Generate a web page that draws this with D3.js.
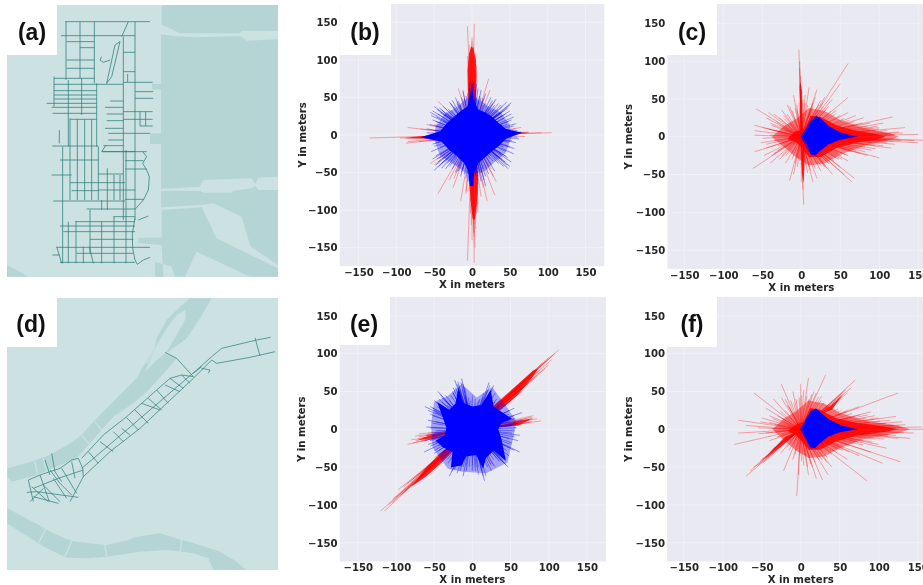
<!DOCTYPE html>
<html><head><meta charset="utf-8">
<script src="https://cdnjs.cloudflare.com/ajax/libs/d3/7.8.5/d3.min.js"></script>
<style>html,body{margin:0;padding:0;background:#fff;overflow:hidden}svg{display:block;filter:blur(.45px)}</style>
</head><body><svg id="c" width="923" height="585"></svg>
<script>
// ---------- tick labels and axis text ----------
const tickValues=[-150,-100,-50,0,50,100,150];
const xLabel="X in meters", yLabel="Y in meters";
const panelNames=["(a)","(b)","(c)","(d)","(e)","(f)"];

// ---------- ray end points in metres [x,y] ----------
const redB=[[-6,145],[3,148],[0,125],[-3,120],[2,118],[-2,110],[1,105],[4,100],[-4,98],[-1,115],[3,95],[0,130],[-2,100],[-6,-167],[3,-170],[4,-150],[5,-125],[0,-140],[2,-130],[6,-105],[-1,-120],[3,-135],[-2,-105],[1,-110],[6,-95],[-1,-95],[-135,-4],[-95,-4],[-88,-5],[-85,-9],[-87,-11],[-85,10],[-60,14],[-65,-3],[-80,-3],[105,3],[92,3],[75,4],[65,10],[70,-2],[60,3],[50,-8],[22,75],[15,50],[30,45],[-12,60],[-18,62],[-45,45],[-20,45],[24,27],[28,20],[40,30],[35,10],[-50,-40],[-45,-78],[-30,-60],[-15,-88],[-8,-75],[-20,-50],[-25,-70],[15,-70],[30,-80],[28,-55],[25,-45],[12,-82],[-55,-38],[40,-30],[-35,-20],[8,-103],[-8,-78],[-6,105],[5,108],[-5,88],[6,92],[-3,82],[4,78],[7,-80],[-2,-88],[4,-104],[8,-92],[-4,-75],[3,-118],[58,8],[-68,8],[-70,-9],[-50,14],[48,-14],[32,-62],[-24,-58],[24,60],[20,-88],[-12,48]];
const blueB=[[-55,30],[-52,20],[-50,38],[-45,28],[-40,33],[-38,38],[-48,12],[-60,8],[-56,-8],[-50,-15],[-54,-22],[-48,-28],[-45,-36],[-40,-38],[-50,-47],[-35,-45],[-30,-42],[-25,-38],[-22,-50],[-15,-55],[-12,-45],[-8,-58],[-5,-62],[2,-68],[8,-55],[12,-62],[18,-68],[15,-45],[22,-52],[26,-40],[30,-48],[35,-38],[42,-42],[48,-45],[52,-36],[55,-25],[45,-22],[50,-16],[58,-10],[62,-5],[60,6],[55,12],[48,18],[55,24],[50,32],[46,44],[40,38],[35,42],[30,35],[25,50],[22,38],[18,55],[12,60],[8,45],[6,68],[2,70],[-3,70],[-8,52],[-12,58],[-18,45],[-22,50],[-28,42],[-32,35],[-28,25],[-43,36],[-47,24],[-36,28],[-33,-38],[-43,-31],[-18,-42],[40,-33],[47,-30],[38,30],[43,33],[27,42],[15,40]];
const blueB2=[[30,25],[33,28],[36,30],[40,26],[44,28],[47,36],[50,40],[52,43],[38,40],[34,34],[28,30],[25,32],[22,30],[20,35],[18,42],[15,48],[12,50],[10,52],[6,50],[4,60],[8,62],[30,40],[42,22],[46,14],[52,20],[58,15],[48,8],[40,14],[35,18],[62,3],[65,4],[55,5],[52,28],[27,46],[32,48],[30,-22],[33,-28],[37,-32],[40,-27],[44,-36],[46,-40],[50,-42],[28,-35],[24,-32],[22,-42],[20,-46],[18,-55],[16,-60],[13,-50],[10,-48],[8,-65],[5,-55],[35,-15],[42,-16],[48,-10],[53,-8],[56,-18],[38,-24],[44,-28],[30,-12],[25,-28],[60,-3],[-30,-25],[-34,-28],[-38,-32],[-42,-26],[-46,-32],[-48,-40],[-52,-32],[-28,-35],[-26,-45],[-24,-30],[-20,-40],[-18,-48],[-14,-50],[-10,-52],[-6,-50],[-3,-60],[-35,-15],[-42,-16],[-48,-10],[-52,-12],[-58,-4],[-40,-44],[-44,-42],[-36,-36],[-30,-14],[-62,-3],[-30,25],[-34,30],[-38,28],[-42,30],[-46,34],[-52,32],[-54,26],[-48,18],[-44,14],[-38,18],[-34,20],[-28,33],[-24,38],[-20,42],[-16,40],[-14,50],[-10,48],[-6,55],[-4,62],[-26,46],[-30,44],[-56,14],[-50,6],[-60,3],[-44,8]];
const redC=[[-3,115],[-2,100],[-1,80],[-2,70],[-1,60],[-2,90],[60,97],[50,70],[60,52],[40,50],[30,52],[20,62],[10,65],[-10,55],[-15,40],[-25,35],[-35,30],[-58,37],[-45,25],[-60,15],[-60,8],[-60,2],[-50,-2],[-45,-10],[-60,-20],[-45,-15],[-62,-42],[-40,-35],[-25,-25],[-15,-58],[-10,-50],[-5,-40],[0,-60],[2,-70],[3,-90],[1,-50],[15,-60],[25,-45],[40,-50],[65,-60],[55,-50],[68,-55],[50,-40],[35,-35],[100,-28],[90,-18],[85,-25],[115,-15],[120,-10],[145,-5],[150,-8],[165,-5],[150,3],[133,12],[117,26],[105,18],[100,12],[80,25],[70,28],[60,32],[45,35],[35,40],[25,48],[100,-5],[130,5],[125,-3],[110,8],[-40,18],[-30,5],[-20,-35],[10,-40],[20,-55],[-28,15],[-22,24],[-35,-22],[-30,-12],[-12,-30],[5,45],[15,40],[-5,35],[30,-38],[75,-22],[60,-25],[95,8],[118,2]];
const redC2=[[105,6],[108,-6],[100,10],[95,-12],[92,12],[90,-8],[88,8],[85,14],[82,-14],[80,-10],[78,18],[75,-16],[72,16],[70,-18],[68,20],[65,-20],[62,22],[58,-24],[55,24],[52,-26],[50,28],[48,-30],[44,30],[42,-32],[38,34],[36,-36],[32,36],[30,-40],[28,40],[25,-38],[115,4],[112,-4],[110,2],[120,3],[125,6],[118,-6],[128,-5],[105,-12],[98,14],[95,-16],[88,18],[82,-20],[110,-8],[15,45],[18,52],[22,42],[28,45],[12,38],[8,42],[5,55],[2,50],[0,48],[-3,45],[-6,42],[-8,38],[-12,35],[-18,30],[-22,28],[-28,25],[-32,20],[-38,15],[-42,10],[-35,8],[-25,12],[-15,18],[-20,8],[-30,2],[-40,2],[-35,-5],[-25,-8],[-15,-12],[-30,-18],[-38,-25],[-28,-30],[-20,-25],[-12,-22],[-8,-35],[-5,-28],[-2,-32],[0,-38],[3,-45],[6,-38],[8,-48],[12,-45],[18,-42],[22,-38],[28,-32],[33,-42],[38,-30],[45,-28],[52,-30],[60,-32],[48,-22],[-18,42],[-42,32],[-50,12],[-52,-8],[-48,-25]];
const blueC=[[15,26],[20,28],[24,26],[12,20],[10,-20],[14,-26],[20,-26],[28,-18],[72,0],[40,12],[40,-9],[30,18],[18,27],[16,-25],[34,-13],[55,4],[55,-3]];
const redE=[[113,105],[105,98],[100,95],[95,80],[100,85],[90,85],[85,70],[78,72],[70,58],[65,50],[60,50],[50,40],[45,38],[-120,-108],[-115,-108],[-105,-97],[-97,-80],[-85,-72],[-92,-85],[-85,-78],[-80,-70],[-72,-62],[-65,-55],[-55,-48],[-50,-38],[-42,-35],[80,18],[90,11],[75,12],[70,8],[60,6],[55,14],[-85,-20],[-80,-14],[-70,-10],[-70,-6],[-60,-8],[-50,-5],[-62,-13],[-48,-15],[-30,-40],[-15,-38],[-10,-38],[-5,35],[5,35],[15,38],[-8,40],[10,-42],[25,-48],[30,-50],[-20,-35],[-12,38]];
const redE2=[[108,100],[104,92],[96,90],[92,88],[88,78],[84,76],[80,76],[76,64],[74,70],[68,66],[72,60],[66,60],[62,58],[58,54],[55,46],[50,46],[-110,-100],[-104,-92],[-100,-90],[-95,-88],[-90,-76],[-88,-82],[-80,-75],[-78,-66],[-72,-68],[-68,-60],[-70,-64],[-62,-52],[-60,-56],[-55,-52],[-52,-44],[85,14],[78,10],[72,14],[65,7],[-78,-18],[-75,-9],[-66,-12],[-58,-5],[-68,-16],[-55,-14],[78,16]];
const blueE=[[-23,65],[-14,67],[-10,55],[-18,58],[-20,50],[-28,45],[-45,50],[-40,42],[-35,38],[-50,38],[-62,30],[-55,20],[-48,22],[-58,12],[-60,3],[-50,-5],[-62,-15],[-55,-22],[-63,-30],[-50,-28],[-45,-35],[-42,-42],[-33,-40],[-30,-62],[-25,-50],[-20,-58],[-12,-62],[-8,-48],[0,-55],[8,-60],[16,-68],[18,-62],[25,-55],[28,-48],[35,-42],[47,-50],[42,-45],[48,-35],[55,-28],[62,-30],[50,-20],[60,-15],[62,-8],[55,-2],[60,8],[65,12],[55,18],[65,22],[55,28],[48,25],[45,33],[35,30],[30,48],[28,58],[22,62],[20,52],[15,48],[10,40],[0,45],[-5,42],[-8,38],[-15,62],[-19,63],[-42,46],[-44,40],[23,58],[26,52],[-27,-56],[-24,-54],[44,-47],[40,-40],[-30,30],[-52,28],[-54,-12],[-38,-30],[-15,-50],[5,-50],[38,-30],[52,5],[45,15],[-25,55]];
const blueE2=[[-30,38],[-33,32],[-38,25],[-42,28],[-46,30],[-50,25],[-52,18],[-48,10],[-52,8],[-55,2],[-48,-2],[-52,-8],[-55,-15],[-48,-18],[-45,-22],[-50,-32],[-44,-28],[-40,-32],[-36,-36],[-32,-45],[-28,-52],[-24,-44],[-20,-48],[-16,-55],[-12,-50],[-8,-55],[-4,-50],[0,-48],[4,-55],[8,-50],[12,-55],[14,-62],[20,-50],[24,-46],[28,-40],[32,-38],[36,-36],[40,-35],[44,-38],[38,-42],[45,-28],[50,-25],[52,-18],[48,-12],[55,-10],[52,-5],[58,2],[52,5],[50,10],[56,14],[50,15],[48,20],[42,22],[40,28],[36,32],[32,40],[30,36],[26,44],[24,50],[22,45],[18,42],[14,42],[8,38],[4,40],[-2,38],[-10,45],[-13,52],[-16,50],[-18,44],[-22,42],[-22,55],[-25,48],[-12,60],[-20,60],[-26,50],[-35,45],[-40,36],[-55,30],[-58,25],[-60,-8],[-58,-20]];
const redF=[[-70,-62],[-60,-50],[-55,-48],[-50,-40],[-45,-38],[-40,-30],[-30,-22],[-65,-55],[-35,-30],[70,65],[65,55],[55,50],[50,42],[45,35],[60,48],[40,30],[35,28],[125,48],[32,72],[10,68],[-25,60],[-60,48],[-35,40],[-25,42],[-10,50],[0,60],[20,48],[-85,-20],[-80,-5],[-80,12],[-70,5],[-55,2],[-50,15],[-40,18],[-45,-5],[-40,-15],[160,0],[155,3],[145,-5],[130,10],[122,17],[90,23],[125,-12],[128,-43],[85,-68],[105,-45],[110,-25],[60,-40],[28,-67],[10,-60],[-5,-88],[-3,-60],[-22,-55],[15,-50],[40,-50],[140,-12],[120,5],[130,2],[115,12],[100,-20],[90,-30],[75,-35],[35,-60],[20,-65],[-10,-40],[-15,-28],[-30,-10],[-25,15],[-15,30],[75,30],[60,25],[95,18],[110,8]];
const redF2=[[108,7],[112,-7],[102,11],[96,-13],[94,13],[90,-9],[86,9],[84,15],[80,-15],[78,-11],[76,19],[74,-17],[70,17],[68,-19],[66,21],[62,-21],[58,23],[55,-25],[52,25],[50,-27],[48,27],[46,-31],[42,31],[40,-33],[36,33],[34,-37],[30,35],[28,-41],[26,38],[24,-37],[118,5],[114,-3],[120,2],[126,4],[134,6],[122,-8],[132,-4],[107,-13],[100,15],[92,-17],[86,19],[80,-21],[112,-9],[14,46],[17,50],[23,43],[27,44],[11,40],[8,44],[4,52],[1,45],[-2,42],[-6,40],[-9,35],[-13,38],[-17,32],[-20,25],[-26,24],[-30,18],[-36,14],[-40,9],[-33,6],[-22,10],[-14,16],[-18,6],[-28,2],[-38,1],[-33,-4],[-24,-7],[-14,-11],[-28,-20],[-36,-26],[-26,-32],[-18,-24],[-10,-20],[-7,-33],[-4,-27],[-1,-34],[1,-42],[4,-48],[7,-36],[9,-50],[13,-46],[19,-44],[23,-40],[29,-30],[34,-44],[39,-29],[46,-26],[54,-28],[62,-30],[49,-20],[-20,40],[-45,28],[-52,10],[-54,-6],[-42,-36],[-48,-44],[-52,-42],[-35,-26],[48,38],[52,46],[42,34],[58,52],[38,32]];

// ---------- outlines of the overdrawn centres, metres ----------
const coreRedB=[[[-5,28],[-6,85],[-4,108],[-1,118],[2,115],[5,100],[6,80],[5,28]],[[-4,-25],[-3,-70],[-1,-95],[1,-112],[4,-112],[6,-95],[8,-70],[7,-25]],[[-25,-2],[-60,-5],[-88,-4],[-60,-1]],[[25,1],[60,4],[76,3],[60,1]]];
const coreBlueB=[[0,72],[2,48],[8,34],[18,30],[27,24],[35,16],[45,8],[66,3],[45,-5],[36,-14],[26,-22],[17,-30],[8,-38],[3,-50],[1,-68],[-3,-68],[-5,-48],[-10,-38],[-20,-28],[-30,-20],[-40,-9],[-68,-3],[-42,5],[-33,16],[-24,24],[-15,32],[-6,38],[-2,55]];
const haloBlueB=[[-5,50],[8,48],[22,38],[38,30],[50,14],[52,-4],[44,-24],[30,-36],[14,-50],[-6,-52],[-26,-38],[-42,-28],[-50,-6],[-48,12],[-36,28],[-22,36]];
const coreRedC=[[[-15,0],[-8,7],[4,10],[12,28],[25,26],[45,15],[70,8],[95,4],[108,0],[95,-4],[70,-8],[45,-15],[25,-27],[10,-27],[0,-14],[-7,-7],[-18,-3]],[[-1,0],[-2,65],[-1,72],[1,60],[2,0]],[[0,0],[1,-50],[3,-62],[4,-40],[4,0]]];
const haloRedC=[[-38,0],[-22,14],[-6,24],[10,38],[30,34],[50,22],[80,12],[115,4],[125,0],[115,-4],[80,-12],[50,-24],[30,-35],[10,-38],[-6,-28],[-22,-14]];
const coreBlueC=[[2,0],[8,12],[14,22],[20,27],[25,24],[35,14],[50,6],[70,0],[50,-4],[35,-10],[25,-18],[18,-25],[12,-23],[8,-12]];
const coreRedE=[[[22,26],[40,42],[60,60],[80,78],[86,80],[78,68],[60,46],[42,30],[28,20]],[[-22,-26],[-40,-44],[-60,-62],[-80,-76],[-75,-70],[-58,-48],[-42,-32],[-28,-20]],[[25,2],[60,11],[80,15],[60,5]],[[-25,-4],[-55,-8],[-75,-15],[-55,-12]]];
const coreBlueE=[[-18,55],[-12,35],[0,30],[12,32],[24,52],[28,30],[40,22],[52,14],[38,8],[34,0],[38,-12],[44,-42],[28,-28],[18,-38],[14,-52],[5,-34],[-8,-36],[-14,-48],[-28,-50],[-26,-30],[-38,-24],[-48,-15],[-36,-8],[-34,2],[-38,14],[-46,36],[-30,26],[-22,34]];
const haloBlueE=[[-14,60],[6,42],[26,56],[46,28],[58,10],[52,-18],[46,-44],[18,-58],[-12,-56],[-32,-52],[-52,-24],[-54,6],[-50,36],[-32,44]];
const coreRedF=[[[-14,0],[-6,6],[4,10],[12,28],[25,26],[45,15],[70,9],[105,4],[125,0],[105,-4],[70,-9],[45,-16],[25,-27],[10,-27],[0,-14],[-7,-7],[-16,-3]],[[-5,-3],[-50,-42],[-20,-10]],[[30,22],[55,47],[40,26]]];
const haloRedF=[[-36,0],[-22,14],[-6,24],[10,38],[30,34],[50,22],[80,12],[125,5],[140,0],[125,-5],[80,-13],[50,-25],[30,-36],[10,-38],[-6,-28],[-22,-14]];
const coreBlueF=[[2,0],[7,14],[13,24],[20,27],[26,22],[35,14],[50,6],[72,0],[50,-4],[35,-10],[25,-18],[18,-25],[12,-24],[7,-12]];

// ---------- map shapes, in map units ----------
const waterA=[
 [[485,20],[490,15],[834,15],[834,92],[760,93],[725,92],[720,100],[590,100],[540,100],[510,85],[485,75]],
 [[483,103],[520,108],[590,112],[720,108],[740,122],[834,118],[834,530],[775,533],[767,552],[755,535],[610,540],[600,560],[483,567]],
 [[483,573],[600,572],[610,578],[695,578],[700,572],[755,565],[765,558],[775,570],[834,570],[834,795],[752,740],[725,650],[640,610],[605,615],[483,622]],
 [[485,630],[605,622],[650,715],[834,805],[834,830],[750,830],[590,755],[555,830],[525,830],[515,800],[465,785],[465,830],[490,830],[485,735],[415,730],[415,713],[485,713]],
 [[21,795],[50,810],[85,830],[21,830]],
 [[456,252],[485,252],[485,268],[456,268]],[[450,400],[485,400],[485,432],[450,432]]
];
const waterD=[
 [[22,520],[80,505],[150,480],[210,445],[245,420],[282,378],[350,310],[410,250],[435,205],[465,155],[470,130],[500,75],[530,45],[570,10],[635,10],[600,70],[560,130],[500,175],[530,190],[500,225],[440,290],[400,325],[340,365],[305,405],[270,445],[230,490],[170,515],[110,540],[35,560],[22,545]],
 [[22,640],[60,660],[135,700],[160,715],[215,738],[270,745],[320,750],[385,735],[410,725],[480,715],[545,735],[600,750],[660,770],[710,800],[738,825],[640,825],[625,790],[580,775],[545,770],[500,765],[420,770],[320,785],[260,790],[200,788],[140,760],[115,745],[60,710],[22,685]]
];
const islandD=[[435,230],[470,150],[500,100],[530,60],[555,45],[558,70],[530,120],[500,170],[465,200]];
const bridgesD=[[[285,380],[305,405]],[[245,422],[270,448]],[[105,500],[112,535]],[[130,490],[140,525]],[[465,155],[440,205]],[[495,172],[530,190]],[[140,697],[115,745]],[[215,738],[195,785]],[[313,745],[320,785]],[[545,735],[540,778]]];

// streets of map (a): rows [y,x0,x1], columns [x,y0,y1], bends as polylines
const rowsA=[[65,195,450],[107,183,405],[125,200,283],[143,240,283],[157,370,405],[180,200,283],[205,200,283],[215,370,405],[235,162,283],[247,370,458],[253,162,370],[272,162,290],[285,162,290],[297,162,290],[310,140,290],[322,155,290],[340,158,290],[358,210,290],[275,405,460],[295,405,460],[303,330,370],[322,315,370],[342,320,370],[362,320,370],[385,315,370],[335,370,458],[358,370,458],[378,420,458],[400,325,450],[420,325,370],[438,157,295],[437,310,370],[455,308,405],[480,180,295],[455,370,440],[482,375,430],[507,375,440],[525,155,215],[522,295,370],[548,210,295],[572,215,295],[548,295,375],[570,295,405],[603,160,375],[598,375,430],[627,260,405],[650,340,405],[665,225,405],[678,180,405],[695,190,405],[718,270,400],[742,170,450],[760,230,400],[787,180,405]];
const colsA=[[162,230,320],[198,65,240],[205,240,440],[240,65,235],[245,235,345],[283,65,250],[290,250,440],[295,440,600],[370,110,660],[405,65,660],[188,440,790],[178,390,430],[210,355,600],[232,358,600],[254,358,600],[275,358,600],[322,505,630],[342,525,600],[360,525,600],[378,450,790],[437,335,378],[420,335,378],[383,222,247],[305,600,630],[270,630,760],[228,665,790],[305,665,790],[342,650,790],[205,665,790],[250,740,790]];
const bendsA=[[[405,655],[397,700],[398,745],[405,780],[412,793],[430,780],[450,772]],[[415,660],[445,648]],[[428,455],[440,470],[428,490],[440,510],[448,530],[445,570],[430,600],[405,628]],[[365,110],[385,65]],[[320,250],[345,135],[360,125],[335,230],[320,250]],[[305,170],[300,180],[310,187],[330,180]],[[268,740],[280,790]],[[170,740],[185,790]],[[318,435],[305,455],[370,455]],[[157,765],[180,765]]];
// streets of map (d)
const roadsD=[
 [[250,545],[330,470],[420,400],[500,325],[580,250],[635,195]],
 [[245,490],[310,420],[380,365],[425,325],[470,285],[510,250],[545,240],[580,245]],
 [[245,520],[310,465],[380,405],[450,345],[520,285],[590,225],[635,185]],
 [[635,185],[665,160],[770,135],[812,127]],[[635,195],[650,205],[750,187],[825,170]],[[765,128],[780,183]],
 [[495,172],[530,190],[580,245]],[[605,220],[630,225],[625,235]],
 [[85,555],[120,540],[180,520],[215,495],[235,490],[248,520],[250,545],[210,620]],
 [[100,580],[175,550],[250,525]],[[80,592],[110,590],[235,607]],[[90,620],[130,580]],[[85,555],[100,620]],[[95,575],[145,620]],
 [[150,525],[180,565],[215,600]],[[155,475],[165,530],[185,560]],[[135,495],[150,540]],[[215,500],[225,550]],[[120,540],[148,620]],[[185,520],[230,595]],
 [[100,605],[175,625]],[[130,570],[180,620]],[[160,550],[200,610]],[[265,470],[295,505]],[[300,440],[340,470]],[[340,410],[370,440]],[[380,368],[415,405]],[[405,345],[445,385]],[[425,325],[480,345]],[[445,310],[485,345]],[[470,285],[505,325]],[[495,270],[540,290]],[[510,250],[550,280]],[[545,240],[570,265]],[[365,400],[390,420]],[[580,235],[605,215]]
];

// ---------- panel frames on the page ----------
const plots=[
 {red:redB,blue:blueB.concat(blueB2),coreR:coreRedB,coreB:[coreBlueB],haloR:[],haloB:[haloBlueB],l:339.5,r:604.5,t:4,b:266.5,x0:472,y0:135,lab:[340,391,0,55,365,40],xl:284,yl:302,xt:273},
 {red:redC.concat(redC2),blue:blueC,coreR:coreRedC,coreB:[coreBlueC],haloR:[haloRedC],haloB:[],l:667.3,r:940,t:4,b:269,x0:801.3,y0:136.7,lab:[667,717,0,55,692,40],xl:287,yl:628,xt:276},
 {red:redE.concat(redE2),blue:blueE.concat(blueE2),coreR:coreRedE,coreB:[coreBlueE],haloR:[],haloB:[haloBlueE],l:339.5,r:606,t:296.7,b:561.7,x0:472.3,y0:429.3,lab:[340,390,290,345,364,332],xl:579,yl:301,xt:568},
 {red:redF.concat(redF2),blue:blueC,coreR:coreRedF,coreB:[coreBlueF],haloR:[haloRedF],haloB:[],l:667,r:940,t:296.7,b:561.7,x0:800.7,y0:429.3,lab:[667,717,296,347,692,332],xl:579,yl:628,xt:568}
];
const maps=[{x:7,y:5,w:271,h:272},{x:7,y:298,w:271,h:272}];

const svg=d3.select("#c");
const white="#fff",plotBg="#e9e9f1",ink="#262626",mapBg="#cce1e1",water="#b5d5d5",road="#2c7f7a";
const tickFont='"DejaVu Sans"', letterFont='"Liberation Sans"';

// maps
const mapX=d3.scaleLinear().domain([0,870]).range([0,290]);
const mapYa=d3.scaleLinear().domain([0,870]).range([0,290]);
const mapYd=d3.scaleLinear().domain([0,870]).range([295,585]);
function drawMap(y,frame,polys,idx){
  const g=svg.append("g");
  const id="mc"+idx;
  svg.append("clipPath").attr("id",id).append("rect").attr("x",frame.x).attr("y",frame.y).attr("width",frame.w).attr("height",frame.h);
  g.attr("clip-path",`url(#${id})`);
  g.append("rect").attr("x",frame.x).attr("y",frame.y).attr("width",frame.w).attr("height",frame.h).attr("fill",mapBg);
  const ln=d3.line().x(d=>mapX(d[0])).y(d=>y(d[1]));
  g.selectAll("path.w").data(polys).join("path").attr("d",d=>ln(d)+"Z").attr("fill",water);
  return {g,ln};
}
{ const {g,ln}=drawMap(mapYa,maps[0],waterA,0);
  const s=g.append("g").attr("fill","none").attr("stroke",road).attr("stroke-width",.95).attr("stroke-opacity",.8);
  s.selectAll("path.r").data(rowsA).join("path").attr("class","r").attr("d",d=>ln([[d[1],d[0]],[d[2],d[0]]]));
  s.selectAll("path.c").data(colsA).join("path").attr("class","c").attr("d",d=>ln([[d[0],d[1]],[d[0],d[2]]]));
  s.selectAll("path.b").data(bendsA).join("path").attr("class","b").attr("d",ln);
}
{ const {g,ln}=drawMap(mapYd,maps[1],waterD,1);
  g.append("path").attr("d",ln(islandD)+"Z").attr("fill",mapBg);
  g.selectAll("path.br").data(bridgesD).join("path").attr("class","br").attr("d",ln).attr("fill","none").attr("stroke",mapBg).attr("stroke-width",1.3);
  g.selectAll("path.rd").data(roadsD).join("path").attr("class","rd").attr("d",ln).attr("fill","none").attr("stroke",road).attr("stroke-width",.85).attr("stroke-opacity",.85);
}

// scatter plots
plots.forEach((p,i)=>{
  const pxX=(p.r-p.x0<135)?(p.r-p.x0)/175:0.78, pxY=(p.b-p.y0)/175;
  const x=d3.scaleLinear().domain([-175,175]).range([p.x0-175*(pxX),p.x0+175*(pxX)]);
  const y=d3.scaleLinear().domain([-175,175]).range([p.y0+175*pxY,p.y0-175*pxY]);
  svg.append("clipPath").attr("id","pc"+i).append("rect").attr("x",p.l).attr("y",p.t).attr("width",p.r-p.l).attr("height",p.b-p.t);
  const g=svg.append("g").attr("clip-path",`url(#pc${i})`);
  g.append("rect").attr("x",p.l).attr("y",p.t).attr("width",p.r-p.l).attr("height",p.b-p.t).attr("fill",plotBg);
  g.selectAll("line.gx").data(tickValues).join("line").attr("class","gx").attr("x1",d=>x(d)).attr("x2",d=>x(d)).attr("y1",p.t).attr("y2",p.b).attr("stroke","#f0f0f5").attr("stroke-width",.9);
  g.selectAll("line.gy").data(tickValues).join("line").attr("class","gy").attr("y1",d=>y(d)).attr("y2",d=>y(d)).attr("x1",p.l).attr("x2",p.r).attr("stroke","#f0f0f5").attr("stroke-width",.9);
  const ln=d3.line().x(d=>x(d[0])).y(d=>y(d[1]));
  g.selectAll("line.red").data(p.red).join("line").attr("class","red").attr("x1",x(0)).attr("y1",y(0)).attr("x2",d=>x(d[0])).attr("y2",d=>y(d[1])).attr("stroke","#f00").attr("stroke-width",1).attr("stroke-opacity",.33);
  g.selectAll("path.hr").data(p.haloR).join("path").attr("class","hr").attr("d",d=>ln(d)+"Z").attr("fill","#f00").attr("fill-opacity",.45);
  g.selectAll("path.cr").data(p.coreR).join("path").attr("class","cr").attr("d",d=>ln(d)+"Z").attr("fill","#f00").attr("fill-opacity",.85);
  g.selectAll("line.blue").data(p.blue).join("line").attr("class","blue").attr("x1",x(0)).attr("y1",y(0)).attr("x2",d=>x(d[0])).attr("y2",d=>y(d[1])).attr("stroke","#00f").attr("stroke-width",1).attr("stroke-opacity",.42);
  g.selectAll("path.hb").data(p.haloB).join("path").attr("class","hb").attr("d",d=>ln(d)+"Z").attr("fill","#00f").attr("fill-opacity",.3);
  g.selectAll("path.cb").data(p.coreB).join("path").attr("class","cb").attr("d",d=>ln(d)+"Z").attr("fill","#00f");

  const ax=svg.append("g").attr("transform",`translate(0,${p.xt-4.5})`).call(d3.axisBottom(x).tickValues(tickValues).tickSize(0).tickPadding(0));
  ax.select(".domain").remove();
  const ay=svg.append("g").attr("transform",`translate(${p.l-2},0)`).call(d3.axisLeft(y).tickValues(tickValues).tickSize(0).tickPadding(0));
  ay.select(".domain").remove();
  svg.selectAll("g .tick text").attr("fill",ink).attr("font-family",tickFont).attr("font-weight","bold").attr("font-size",10.1);
  svg.append("text").text(xLabel).attr("x",p.x0).attr("y",p.xl+3.5).attr("text-anchor","middle").attr("fill",ink).attr("font-family",tickFont).attr("font-weight","bold").attr("font-size",10.2);
  svg.append("text").text(yLabel).attr("transform",`translate(${p.yl+3.5},${p.y0}) rotate(-90)`).attr("text-anchor","middle").attr("fill",ink).attr("font-family",tickFont).attr("font-weight","bold").attr("font-size",10.2);
});

// white label patches and letters
const labels=[[7,57,0,55,32,40],plots[0].lab,plots[1].lab,[7,57,295,347,31,332],plots[2].lab,plots[3].lab];
svg.selectAll("rect.lab").data(labels).join("rect").attr("class","lab").attr("x",d=>d[0]).attr("width",d=>d[1]-d[0]).attr("y",d=>d[2]).attr("height",d=>d[3]-d[2]).attr("fill",white);
svg.selectAll("text.lab").data(labels).join("text").attr("class","lab").text((d,i)=>panelNames[i]).attr("x",d=>d[4]).attr("y",d=>d[5]).attr("text-anchor","middle").attr("font-family",letterFont).attr("font-weight","bold").attr("font-size",23).attr("fill","#111");
</script></body></html>
